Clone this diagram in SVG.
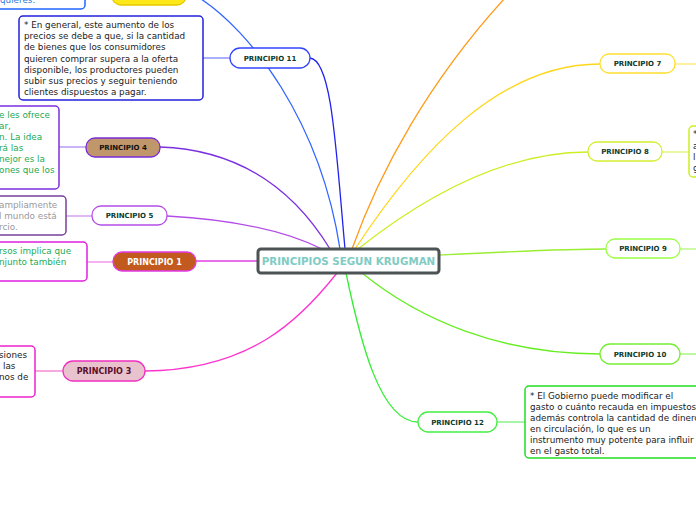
<svg xmlns="http://www.w3.org/2000/svg" width="696" height="520" viewBox="0 0 696 520">
<style>
.c{fill:none;stroke-width:1.3}
.cl{fill:none;stroke-width:2}
.n{fill:#fff;stroke-width:1.3}
.t{font-family:"DejaVu Sans",Verdana,sans-serif;font-weight:bold;font-size:7px;fill:#0d3b2e;text-anchor:middle}
.tb{font-family:"DejaVu Sans",Verdana,sans-serif;font-weight:bold;font-size:8px;text-anchor:middle}
.b{fill:#fff;stroke-width:1.5}
.x{font-family:"DejaVu Sans",Verdana,sans-serif;font-size:8.8px;fill:#222}
</style>
<g id="connectors">
<path class="c" stroke="#3366ff" d="M198,-3 C250,30 320,120 340,249"/>
<path class="c" stroke="#2222ee" d="M310,58 C332,60 336,150 345,249"/>
<path class="c" stroke="#7b2fe0" d="M160,147 C250,150 300,200 330,249"/>
<path class="c" stroke="#b44ee8" d="M167,216 C240,220 290,233 322,249"/>
<path class="c" stroke="#e040e0" d="M196,261 L258,261"/>
<path class="c" stroke="#ff33cc" d="M145,371 C250,370 300,320 337,273"/>
<path class="c" stroke="#ff9a1a" d="M352,249 C380,170 430,80 505,-2"/>
<path class="c" stroke="#ffd61a" d="M355,249 C420,150 500,64 600,64"/>
<path class="c" stroke="#ccee22" d="M358,249 C420,200 500,152 588,152"/>
<path class="c" stroke="#99ee33" d="M439,255 C500,252 560,249 606,249"/>
<path class="c" stroke="#66ee22" d="M362,273 C420,320 500,354 600,354"/>
<path class="c" stroke="#33ee33" d="M346,273 C360,340 380,422 418,422"/>
<path class="cl" stroke="#aab0ff" d="M203,58 L230,58"/>
<path class="cl" stroke="#cbb4f7" d="M59,147 L86,147"/>
<path class="cl" stroke="#e2b8f5" d="M66,216 L92,216"/>
<path class="cl" stroke="#f5b0f0" d="M87,262 L113,262"/>
<path class="cl" stroke="#f7a8dd" d="M35,371 L63,371"/>
<path class="cl" stroke="#fff0a0" d="M675,64 L696,64"/>
<path class="cl" stroke="#eaf7a0" d="M662,152 L690,152"/>
<path class="cl" stroke="#cdfaa8" d="M680,249 L696,249"/>
<path class="cl" stroke="#bdf7a0" d="M680,354 L696,354"/>
<path class="cl" stroke="#a8f5a8" d="M497,422 L525,422"/>
</g>
<g id="center">
<rect x="258" y="249" width="181" height="24" rx="3" fill="#fff" stroke="#4d5254" stroke-width="3"/>
<text x="348.5" y="265" font-family="DejaVu Sans,Verdana,sans-serif" font-weight="bold" font-size="10.3" fill="#80cbc4" text-anchor="middle">PRINCIPIOS SEGUN KRUGMAN</text>
</g>
<g id="box-top">
<rect class="b" x="-8" y="-20" width="93" height="29" rx="4" stroke="#2266ff"/>
<text class="x" x="0" y="3" style="fill:#2b7bd6">quieres.</text>
</g>
<g id="node-top">
<rect x="112" y="-15" width="74" height="20" rx="9" fill="#ffe81a" stroke="#e6c800" stroke-width="1.3"/>
</g>
<g id="p11">
<rect class="n" x="230" y="48" width="80" height="20" rx="10" stroke="#3344ff"/>
<text class="t" x="270" y="60.5">PRINCIPIO 11</text>
</g>
<g id="box-p11">
<rect class="b" x="19" y="16" width="184" height="84" rx="4" stroke="#2222dd"/>
<text class="x" x="24" y="28">* En general, este aumento de los</text>
<text class="x" x="24" y="39.2">precios se debe a que, si la cantidad</text>
<text class="x" x="24" y="50.4">de bienes que los consumidores</text>
<text class="x" x="24" y="61.6">quieren comprar supera a la oferta</text>
<text class="x" x="24" y="72.8">disponible, los productores pueden</text>
<text class="x" x="24" y="84">subir sus precios y seguir teniendo</text>
<text class="x" x="24" y="95.2">clientes dispuestos a pagar.</text>
</g>
<g id="p4">
<rect x="86" y="138" width="74" height="19" rx="9" fill="#c0976a" stroke="#7a2bd9" stroke-width="1.3"/>
<text class="t" x="123" y="150" style="fill:#111">PRINCIPIO 4</text>
</g>
<g id="box-p4">
<rect class="b" x="-8" y="106" width="67" height="83" rx="4" stroke="#7b2fe0"/>
<text class="x" x="-1" y="118" style="fill:#22aa55">e les ofrece</text>
<text class="x" x="-1" y="129" style="fill:#22aa55">ar,</text>
<text class="x" x="-1" y="140" style="fill:#22aa55">n. La idea</text>
<text class="x" x="-1" y="151" style="fill:#22aa55">rá las</text>
<text class="x" x="-1" y="162" style="fill:#22aa55">nejor es la</text>
<text class="x" x="-1" y="173" style="fill:#22aa55">ones que los</text>
</g>
<g id="p5">
<rect class="n" x="92" y="206" width="75" height="19" rx="9" stroke="#b44ee8"/>
<text class="t" x="129.5" y="218">PRINCIPIO 5</text>
</g>
<g id="box-p5">
<rect class="b" x="-8" y="196" width="74" height="39" rx="4" stroke="#7a3f9a"/>
<text class="x" x="-1" y="208" style="fill:#999">ampliamente</text>
<text class="x" x="-1" y="219" style="fill:#999">l mundo está</text>
<text class="x" x="-1" y="230" style="fill:#999">rcio.</text>
</g>
<g id="p1">
<rect x="113" y="252" width="83" height="19" rx="9" fill="#c25a20" stroke="#e23ae8" stroke-width="1.3"/>
<text class="tb" x="154.5" y="264.5" fill="#fff">PRINCIPIO 1</text>
</g>
<g id="box-p1">
<rect class="b" x="-8" y="242" width="95" height="39" rx="4" stroke="#e020e0"/>
<text class="x" x="-1" y="254" style="fill:#22aa55">rsos implica que</text>
<text class="x" x="-1" y="265" style="fill:#22aa55">njunto también</text>
</g>
<g id="p3">
<rect x="63" y="361" width="82" height="20" rx="10" fill="#e8c2cc" stroke="#f030c0" stroke-width="1.3"/>
<text class="tb" x="104" y="374" fill="#5a0f2e">PRINCIPIO 3</text>
</g>
<g id="box-p3">
<rect class="b" x="-8" y="346" width="43" height="51" rx="4" stroke="#ee22cc"/>
<text class="x" x="-1" y="358">siones</text>
<text class="x" x="3" y="369">las</text>
<text class="x" x="-1" y="380">nos de</text>
</g>
<g id="p7">
<rect class="n" x="600" y="54" width="75" height="19" rx="9" stroke="#ffe030"/>
<text class="t" x="637.5" y="66">PRINCIPIO 7</text>
</g>
<g id="p8">
<rect class="n" x="588" y="142" width="74" height="19" rx="9" stroke="#d4ee30"/>
<text class="t" x="625" y="154">PRINCIPIO 8</text>
</g>
<g id="box-p8">
<rect class="b" x="689" y="126" width="20" height="51" rx="4" stroke="#ccee22"/>
<text class="x" x="693" y="137">*</text>
<text class="x" x="693" y="149">a</text>
<text class="x" x="693" y="160">l</text>
<text class="x" x="693" y="171">g</text>
</g>
<g id="p9">
<rect class="n" x="606" y="239" width="74" height="19" rx="9" stroke="#99ff44"/>
<text class="t" x="643" y="251">PRINCIPIO 9</text>
</g>
<g id="p10">
<rect class="n" x="600" y="344" width="80" height="20" rx="10" stroke="#77ee33"/>
<text class="t" x="640" y="356.5">PRINCIPIO 10</text>
</g>
<g id="p12">
<rect class="n" x="418" y="412" width="79" height="20" rx="10" stroke="#44ee44"/>
<text class="t" x="457.5" y="424.5">PRINCIPIO 12</text>
</g>
<g id="box-p12">
<rect class="b" x="525" y="386" width="180" height="72" rx="4" stroke="#22dd22"/>
<text class="x" x="530" y="399">* El Gobierno puede modificar el</text>
<text class="x" x="530" y="410">gasto o cuánto recauda en impuestos</text>
<text class="x" x="530" y="421">además controla la cantidad de dinero</text>
<text class="x" x="530" y="432">en circulación, lo que es un</text>
<text class="x" x="530" y="443">instrumento muy potente para influir</text>
<text class="x" x="530" y="454">en el gasto total.</text>
</g>
</svg>
